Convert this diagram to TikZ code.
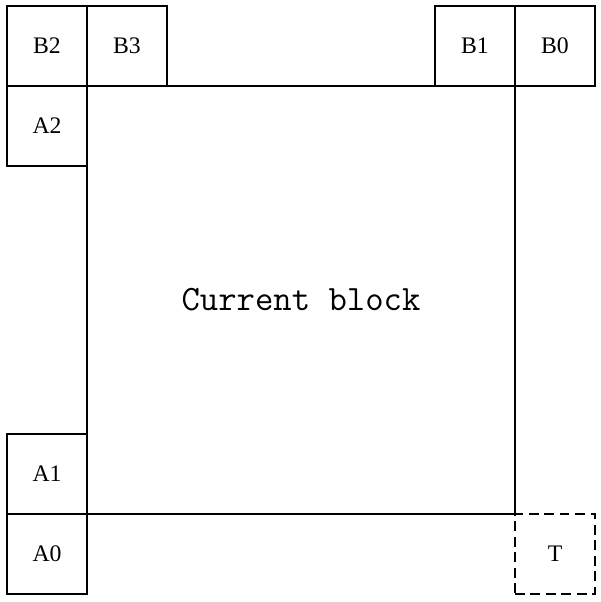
\documentclass[tikz,border=0pt]{standalone}
\usepackage{fontspec}
\newfontfamily\cellfont{Liberation Serif}
\begin{document}
\begin{tikzpicture}[
x=0.02cm, y=-0.02cm,
cell/.style={draw, line width=0.9pt, minimum size=1.6cm, inner sep=0pt, font=\cellfont\fontsize{13.5}{15}\selectfont},
target/.style={cell, dash pattern=on 5.6pt off 3.2pt},
block/.style={draw, line width=0.9pt, minimum size=8.56cm, inner sep=0pt, font=\ttfamily\fontsize{20.3}{24}\selectfont}
]
\useasboundingbox (0,0) rectangle (601,602);
\node[block] (cur) at (301,300) {Current block};
\node[cell] (b2) at (47,46) {B2};
\node[cell] (b3) at (127,46) {B3};
\node[cell] (b1) at (475,46) {B1};
\node[cell] (b0) at (555,46) {B0};
\node[cell] (a2) at (47,126) {A2};
\node[cell] (a1) at (47,474) {A1};
\node[cell] (a0) at (47,554) {A0};
\node[target] (t) at (555,554) {T};
\end{tikzpicture}
\end{document}
